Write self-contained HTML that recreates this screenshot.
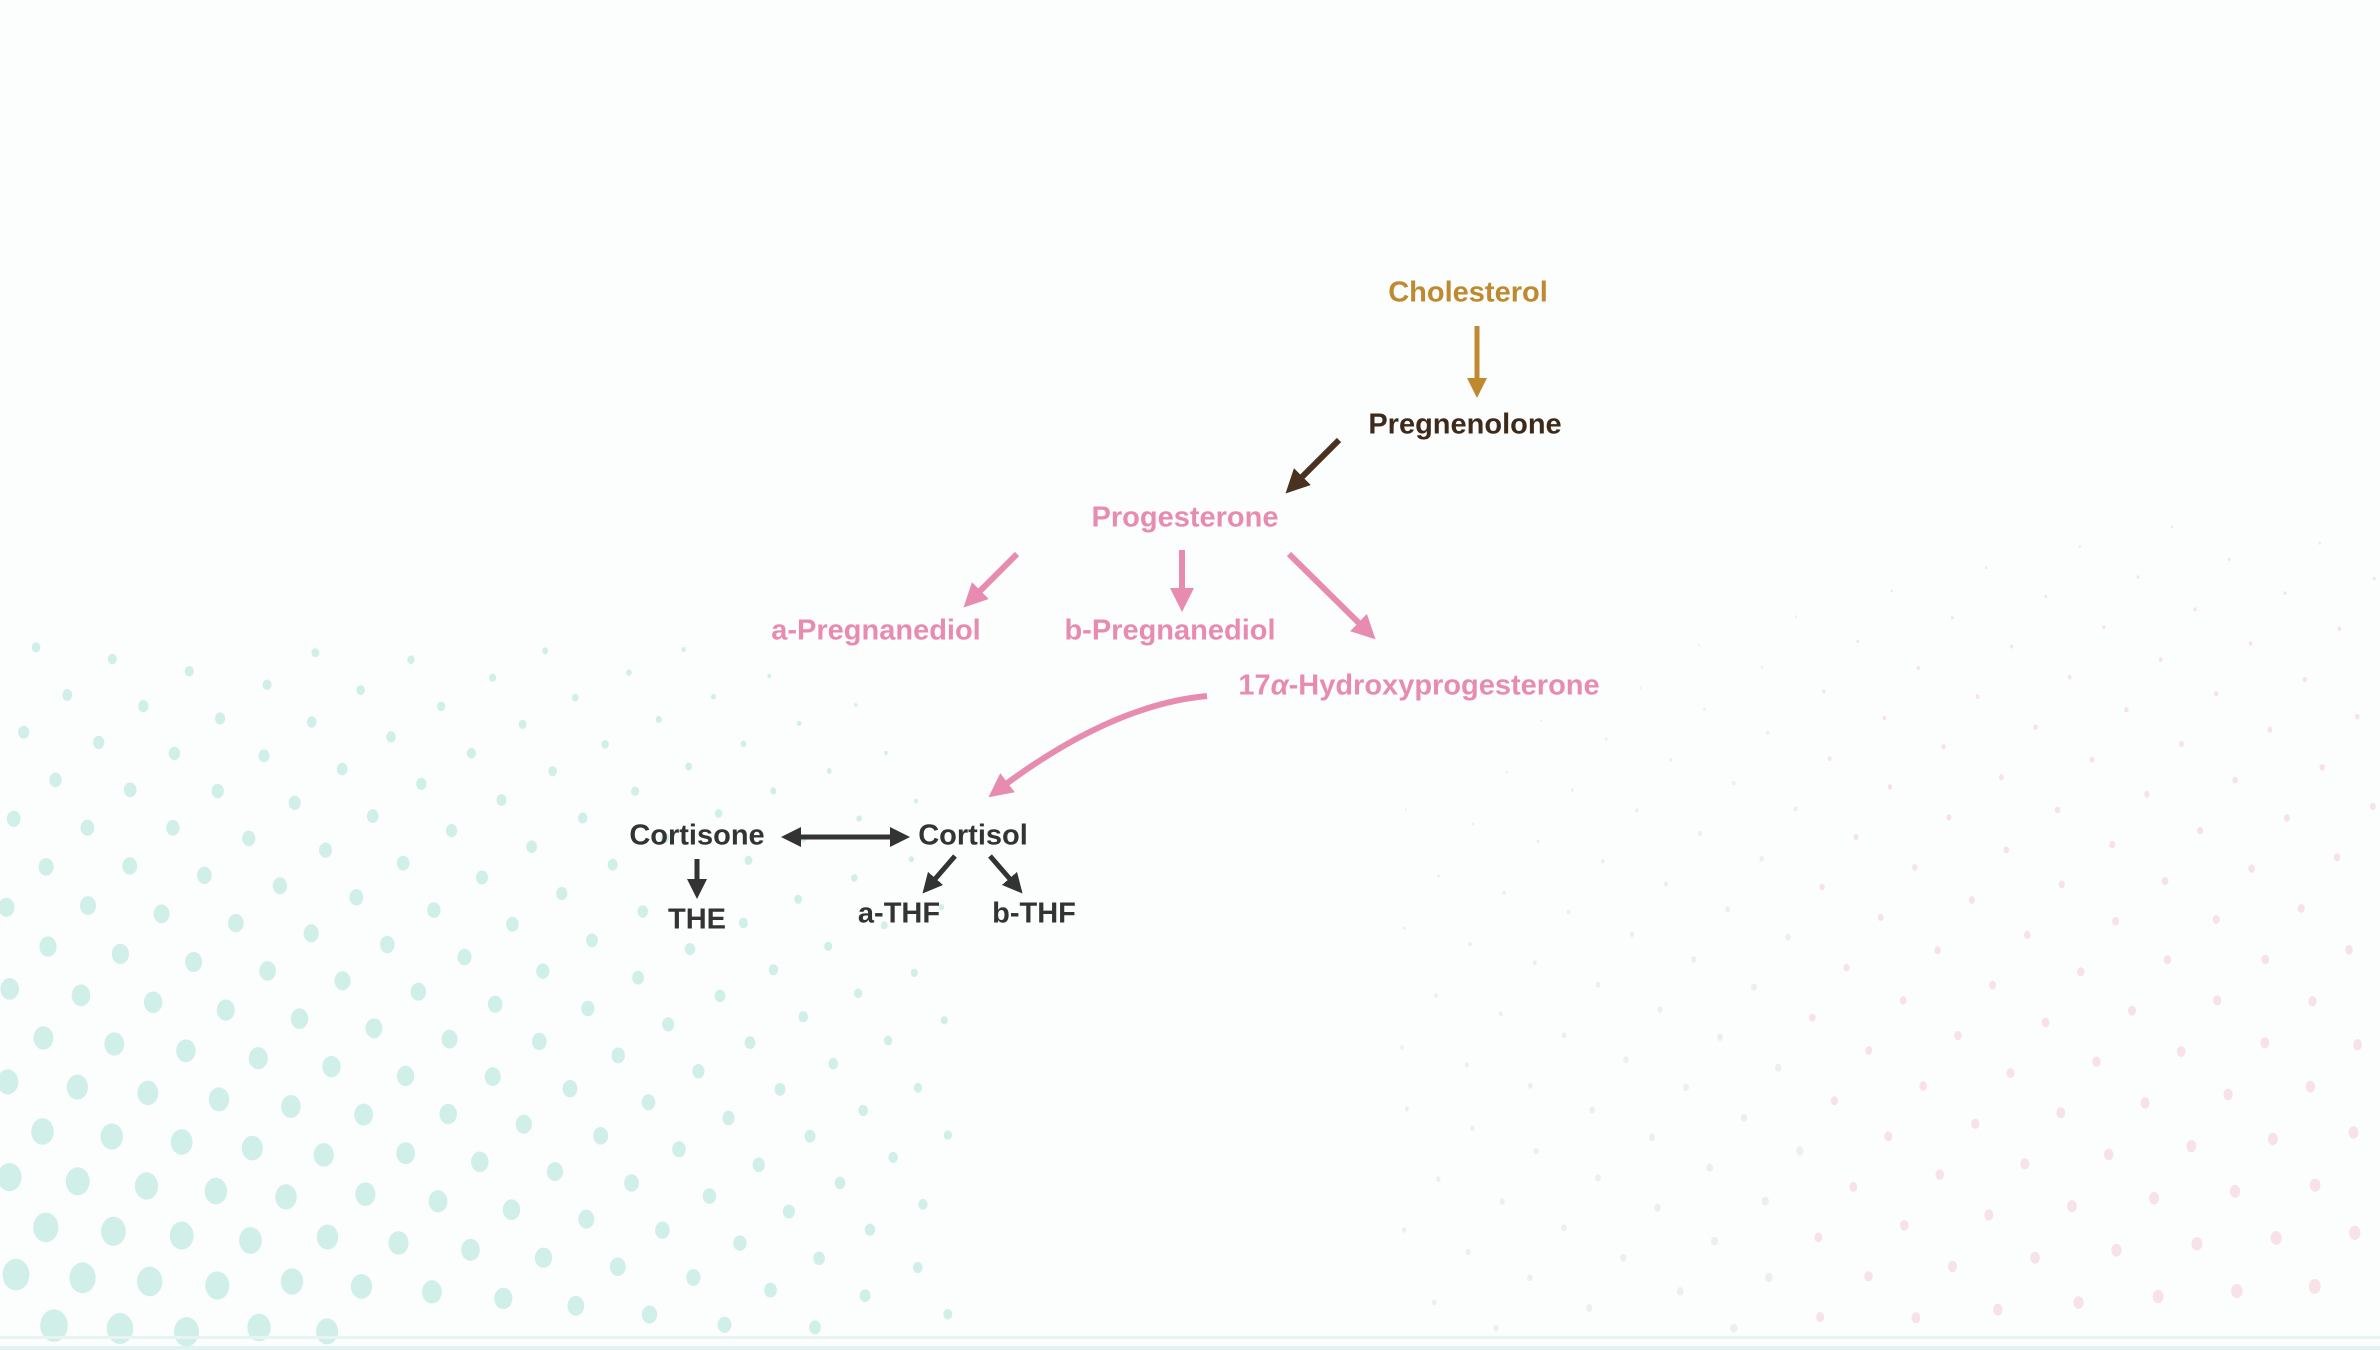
<!DOCTYPE html>
<html><head><meta charset="utf-8">
<style>
html,body{margin:0;padding:0;}
body{width:2380px;height:1350px;overflow:hidden;background:#fcfdfd;position:relative;font-family:"Liberation Sans",sans-serif;}
#bg{position:absolute;left:0;top:0;}
.t{position:absolute;font-weight:bold;font-size:29px;transform:translate(-50%,-50%);white-space:nowrap;}
.g{color:#bf8a2f}.b{color:#3e2a1a}.p{color:#e88bb0}.k{color:#333}
</style></head><body>
<svg id="bg" width="2380" height="1350" xmlns="http://www.w3.org/2000/svg">
<g id="dots"></g>
<rect x="0" y="1336" width="2380" height="3" fill="#e8f4f2"/>
<rect x="0" y="1346" width="2380" height="4" fill="#dff3f0"/>
</svg>
<svg width="2380" height="1350" style="position:absolute;left:0;top:0" xmlns="http://www.w3.org/2000/svg">
<defs>
<marker id="mg" markerWidth="4" markerHeight="4" refX="2" refY="2" orient="auto" markerUnits="strokeWidth"><path d="M0,0 L4,2 L0,4z" fill="#bf8a2f"/></marker>
<marker id="mb" markerWidth="4" markerHeight="4" refX="2" refY="2" orient="auto" markerUnits="strokeWidth"><path d="M0,0 L4,2 L0,4z" fill="#4a3220"/></marker>
<marker id="mp" markerWidth="4" markerHeight="4" refX="2" refY="2" orient="auto" markerUnits="strokeWidth"><path d="M0,0 L4,2 L0,4z" fill="#e88bb0"/></marker>
<marker id="mk" markerWidth="4" markerHeight="4" refX="2" refY="2" orient="auto" markerUnits="strokeWidth"><path d="M0,0 L4,2 L0,4z" fill="#333"/></marker>
<marker id="mks" markerWidth="4" markerHeight="4" refX="2" refY="2" orient="auto-start-reverse" markerUnits="strokeWidth"><path d="M0,0 L4,2 L0,4z" fill="#333"/></marker>
</defs>
<line x1="1477" y1="326" x2="1477" y2="388" stroke="#bf8a2f" stroke-width="5" marker-end="url(#mg)"/>
<line x1="1339" y1="440" x2="1294" y2="485" stroke="#4a3220" stroke-width="6" marker-end="url(#mb)"/>
<line x1="1017" y1="554" x2="972" y2="599" stroke="#e88bb0" stroke-width="6" marker-end="url(#mp)"/>
<line x1="1182" y1="550" x2="1182" y2="600" stroke="#e88bb0" stroke-width="6" marker-end="url(#mp)"/>
<line x1="1289" y1="554" x2="1367" y2="631" stroke="#e88bb0" stroke-width="6" marker-end="url(#mp)"/>
<path d="M1207,696 Q1110,705 998,790" fill="none" stroke="#e88bb0" stroke-width="6" marker-end="url(#mp)"/>
<line x1="791" y1="837" x2="900" y2="837" stroke="#333" stroke-width="5" marker-start="url(#mks)" marker-end="url(#mk)"/>
<line x1="697" y1="859" x2="697" y2="889" stroke="#333" stroke-width="5" marker-end="url(#mk)"/>
<line x1="955" y1="856" x2="929" y2="886" stroke="#333" stroke-width="5" marker-end="url(#mk)"/>
<line x1="990" y1="856" x2="1016" y2="886" stroke="#333" stroke-width="5" marker-end="url(#mk)"/>
</svg>
<div class="t g" style="left:1468px;top:293px">Cholesterol</div>
<div class="t b" style="left:1465px;top:425px">Pregnenolone</div>
<div class="t p" style="left:1185px;top:518px">Progesterone</div>
<div class="t p" style="left:876px;top:631px">a-Pregnanediol</div>
<div class="t p" style="left:1170px;top:631px">b-Pregnanediol</div>
<div class="t p" style="left:1419px;top:686px">17<i>α</i>-Hydroxyprogesterone</div>
<div class="t k" style="left:697px;top:836px">Cortisone</div>
<div class="t k" style="left:973px;top:836px">Cortisol</div>
<div class="t k" style="left:697px;top:920px">THE</div>
<div class="t k" style="left:899px;top:914px">a-THF</div>
<div class="t k" style="left:1034px;top:914px">b-THF</div>
<script>
(function(){
var g=document.getElementById('dots'),s='';
var cx=1300,cy=1900;
for(var r=560;r<2200;r+=60){
  var n=Math.floor(Math.PI*r/60);
  for(var i=0;i<n;i++){
    var a=Math.PI+ (i/n)*Math.PI;
    var x=cx+r*Math.cos(a), y=cy+r*Math.sin(a)*0.9;
    if(x<0||x>950||y<640||y>1335)continue;
    var d=Math.hypot(x*0.8,(1350-y)*1.1);
    var rad=Math.max(0,17-d/65);
    if(rad<1.5)continue;
    s+='<ellipse cx="'+x.toFixed(1)+'" cy="'+y.toFixed(1)+'" rx="'+(rad*0.85).toFixed(1)+'" ry="'+rad.toFixed(1)+'" fill="#c4ebe4" opacity="0.8"/>';
  }
}
var px=1100,py=1950;
for(var r=560;r<2400;r+=68){
  var n=Math.floor(Math.PI*r/68);
  for(var i=0;i<n;i++){
    var a=Math.PI+ (i/n)*Math.PI;
    var x=px+r*Math.cos(a), y=py+r*Math.sin(a)*0.85;
    if(x<1400||x>2380||y<520||y>1335)continue;
    var d=Math.hypot((2380-x)*0.8,(1350-y)*1.2);
    var rad=Math.max(0,8-d/150);
    if(rad<1.2)continue;
    var col=x>1800?'#f6e2e7':'#eceff0';
    s+='<ellipse cx="'+x.toFixed(1)+'" cy="'+y.toFixed(1)+'" rx="'+(rad*0.8).toFixed(1)+'" ry="'+rad.toFixed(1)+'" fill="'+col+'"/>';
  }
}
g.innerHTML=s;
})();
</script>
</body></html>
